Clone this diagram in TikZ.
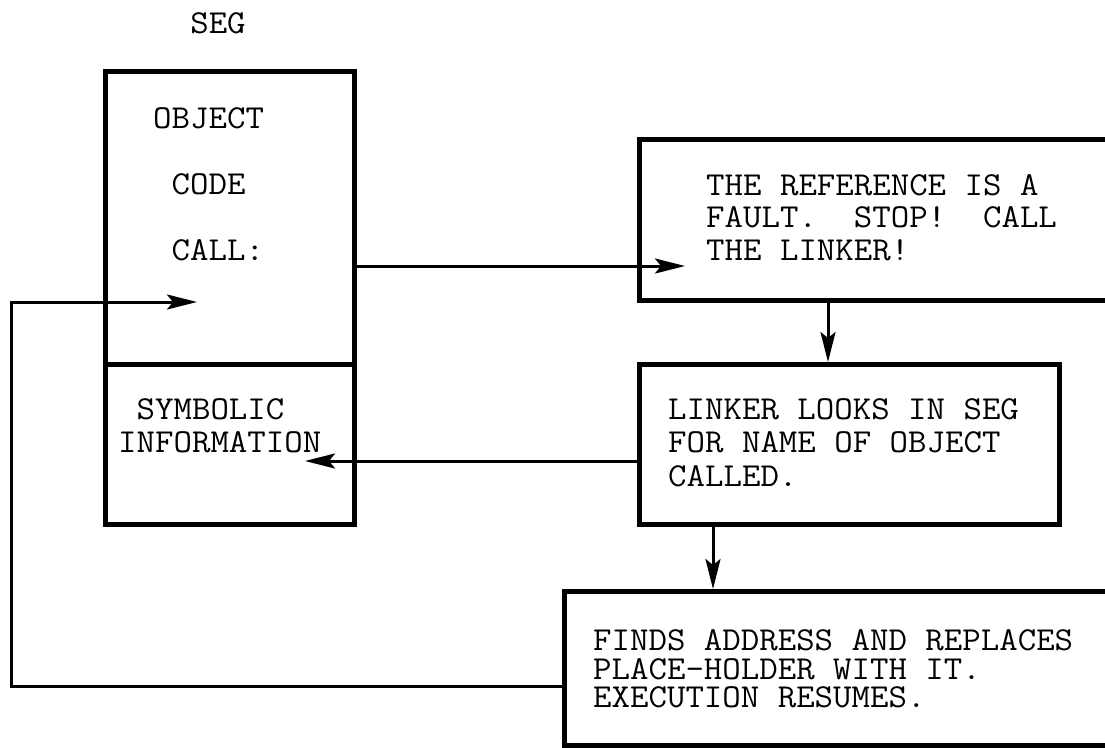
\documentclass[tikz,border=0pt]{standalone}
\usepackage{tikz}
\usetikzlibrary{positioning, arrows.meta}

% wide typewriter line
\newcommand{\tw}[1]{\scalebox{1.07}[1]{#1}}

\tikzset{
  boxline/.style={draw, line width=4.5pt, inner sep=0pt, anchor=north west},
  flow/.style={line width=3pt, -{Stealth[length=30pt, width=15pt, inset=6pt]}},
  typed/.style={inner sep=0pt, anchor=west, align=left,
                font=\ttfamily\fontsize{33.5}{33}\selectfont},
}

\begin{document}
\begin{tikzpicture}[x=1pt, y=-1pt]
    \useasboundingbox (0,0) rectangle (1105,747);
    \clip (0,0) rectangle (1105,747);

    % the segment and its two parts
    \node[typed, anchor=center] (seglabel) at (218,23) {\tw{SEG}};
    \node[boxline, minimum width=249pt, minimum height=293pt] (segtop) at (103,69) {};
    \node[boxline, minimum width=249pt, minimum height=160pt] (segbot) at (103,362) {};
    \node[typed, font=\ttfamily\fontsize{33.5}{66}\selectfont] (codetxt) at (153,184)
      {\tw{OBJECT}\\\tw{\hphantom{O}CODE}\\\tw{\hphantom{O}CALL:}};
    \node[typed] (symtxt) at (118,425.5) {\tw{\hphantom{I}SYMBOLIC}\\\tw{INFORMATION}};

    % linker steps (boxes run off the right edge)
    \node[boxline, minimum width=560pt, minimum height=161pt] (fault) at (637,137) {};
    \node[typed, font=\ttfamily\fontsize{33.5}{32.5}\selectfont] (faulttxt) at (706,217.5)
      {\tw{THE REFERENCE IS A}\\\tw{FAULT.\ \ STOP!\ \ CALL}\\\tw{THE LINKER!}};

    \node[boxline, minimum width=420pt, minimum height=160pt] (lookup) at (637,362) {};
    \node[typed, font=\ttfamily\fontsize{33.5}{33.5}\selectfont] (lookuptxt) at (668,442.5)
      {\tw{LINKER LOOKS IN SEG}\\\tw{FOR NAME OF OBJECT}\\\tw{CALLED.}};

    \node[boxline, minimum width=640pt, minimum height=154pt] (patch) at (562,589) {};
    \node[typed, font=\ttfamily\fontsize{33.5}{28.5}\selectfont] (patchtxt) at (593,669)
      {\tw{FINDS ADDRESS AND REPLACES}\\\tw{PLACE-HOLDER WITH IT.}\\\tw{EXECUTION RESUMES.}};

    % free ends of the connectors
    \coordinate (callin) at (685,266);
    \coordinate (faultdrop) at (828,0);
    \coordinate (symin) at (305,461);
    \coordinate (lookdrop) at (713,0);
    \coordinate (loopcorner) at (11,686);
    \coordinate (resume) at (197,302);

    \draw[flow] (segtop.east |- callin) -- (callin);
    \draw[flow] (fault.south -| faultdrop) -- (lookup.north -| faultdrop);
    \draw[flow] (lookup.west |- symin) -- (symin);
    \draw[flow] (lookup.south -| lookdrop) -- (patch.north -| lookdrop);
    \draw[flow] (patch.west |- loopcorner) -- (loopcorner) |- (resume);
\end{tikzpicture}
\end{document}
